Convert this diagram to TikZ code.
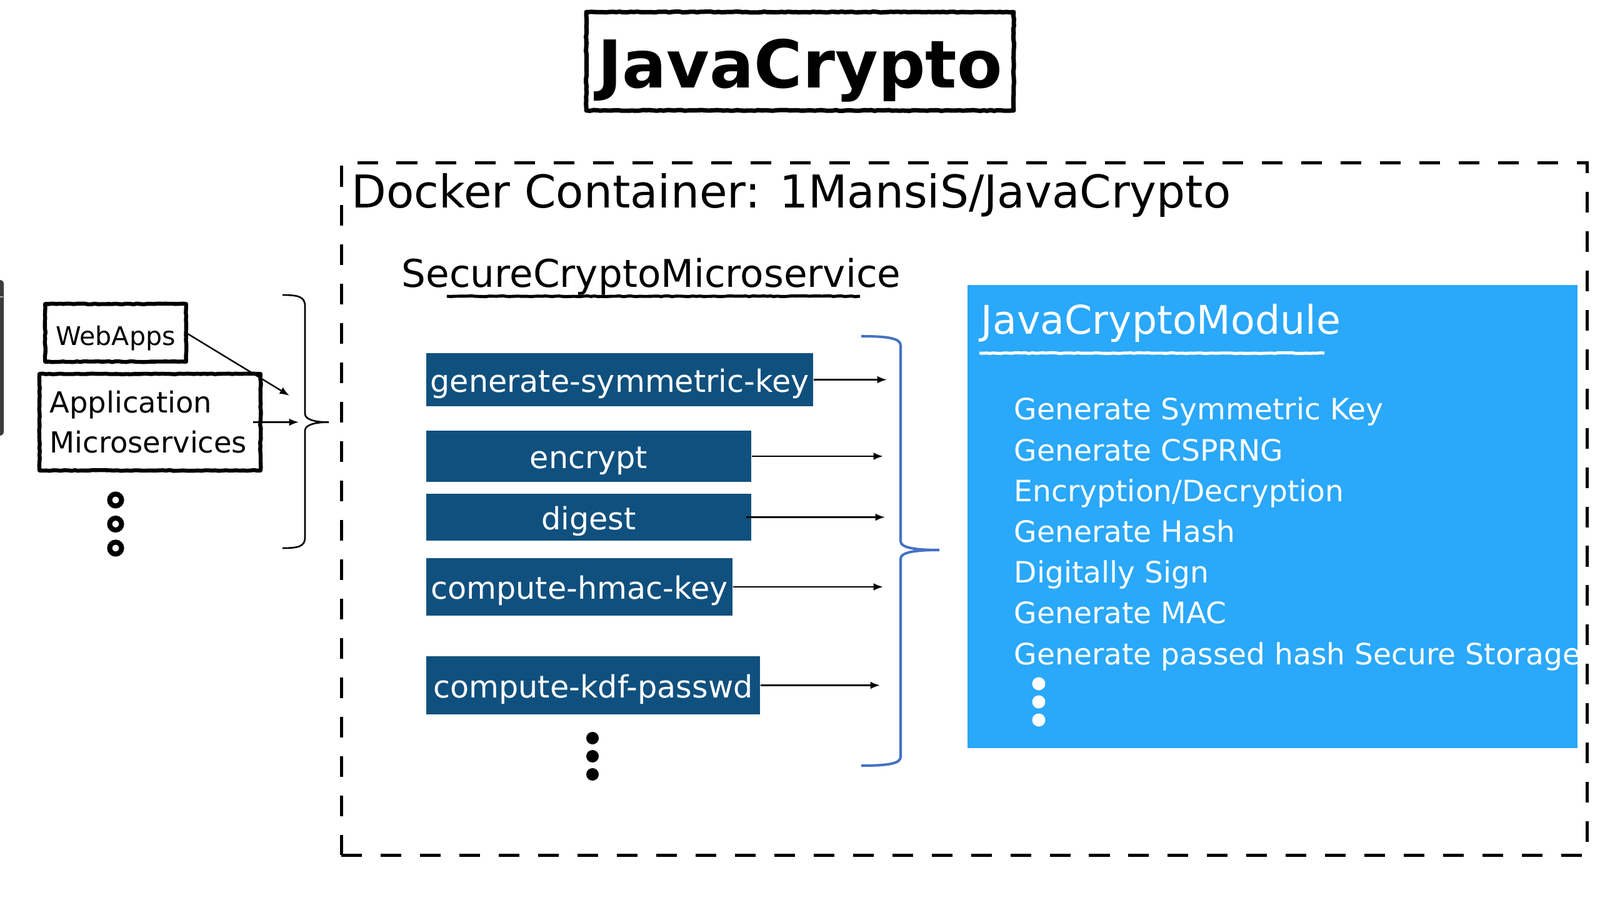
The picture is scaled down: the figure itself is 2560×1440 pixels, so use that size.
\documentclass[tikz,border=0pt]{standalone}
\usepackage{fontspec}
\setmainfont{DejaVu Sans}
\usetikzlibrary{arrows.meta,decorations.pathmorphing}
\definecolor{darkbox}{HTML}{10507E}
\definecolor{skyb}{HTML}{2AA8F9}
\definecolor{bracec}{HTML}{4472C4}
\definecolor{barg}{HTML}{3C3C3C}
\begin{document}
\begin{tikzpicture}[x=0.01cm,y=-0.01cm,
  rough/.style={decorate, decoration={random steps, segment length=1.6pt, amplitude=0.18pt}, line width=1.8pt, line join=round},
  dbox/.style={fill=darkbox, inner sep=0pt, text=white, font=\fontsize{14}{16}\selectfont, text height=12.8pt, text depth=1.6pt},
  arr/.style={-{Latex[length=4.4pt,width=3.4pt]}, line width=0.7pt},
  itemtext/.style={anchor=base west, text=white, inner sep=0pt, font=\fontsize{13.4}{16}\selectfont},
  wdot/.style={fill=white},
  bdot/.style={fill=black},
  ring/.style={draw=black, line width=2.3pt},
  brc/.style={line width=0.75pt},
]
\useasboundingbox (0,0) rectangle (2560,1440);
\fill[white] (0,0) rectangle (2560,1440);

% grey bar at left edge
\fill[barg, rounded corners=0.06cm] (-40,448) rectangle (6,697);
\draw[gray!60, line width=0.4pt] (0,475) -- (5,475);

% title
\node[inner sep=0pt, minimum width=6.82cm, minimum height=1.56cm, font=\fontsize{30}{34}\bfseries, text height=26pt, text depth=2.1pt] (title) at (1280,98) {JavaCrypto};
\draw[rough, line width=2pt] (title.north west) rectangle (title.south east);

% docker container
\node[draw=black, dash pattern=on 9.4pt off 8.5pt, line width=1.4pt, inner sep=0pt, minimum width=19.92cm, minimum height=11.07cm] (docker) at (1543,814.5) {};
\node[anchor=base west, inner sep=0pt, font=\fontsize{20.6}{24}\selectfont] (dlabel) at (562,333) {Docker Container: 1MansiS/JavaCrypto};

% SecureCryptoMicroservice
\node[anchor=base west, inner sep=0pt, font=\fontsize{17.4}{20}\selectfont] (scm) at (642,460) {SecureCryptoMicroservice};
\draw[rough, line width=1.4pt] (715,474) -- (1376,474);

% endpoint boxes
\node[dbox, minimum width=6.19cm, minimum height=0.85cm] (b1) at (991.5,607.5) {generate-symmetric-key};
\node[dbox, minimum width=5.20cm, minimum height=0.82cm] (b2) at (942,730) {encrypt};
\node[dbox, minimum width=5.20cm, minimum height=0.75cm] (b3) at (942,827.5) {digest};
\node[dbox, minimum width=4.90cm, minimum height=0.92cm] (b4) at (927,939) {compute-hmac-key};
\node[dbox, minimum width=5.34cm, minimum height=0.93cm] (b5) at (949,1096.5) {compute-kdf-passwd};

\coordinate (e1) at (1419,607.5);
\coordinate (e2) at (1413,730);
\coordinate (e3) at (1416,827.5);
\coordinate (e4) at (1413,939);
\coordinate (e5) at (1408,1096.5);
\draw[arr] (b1.east) -- (e1);
\draw[arr] (b2.east) -- (e2);
\draw[arr] ([xshift=-0.09cm]b3.east) -- (e3);
\draw[arr] (b4.east) -- (e4);
\draw[arr] (b5.east) -- (e5);

\fill[bdot] (948,1181) circle[radius=0.10cm];
\fill[bdot] (948,1210) circle[radius=0.10cm];
\fill[bdot] (948,1239) circle[radius=0.10cm];

% blue brace
\draw[bracec, line width=1.15pt] (1378,538) .. controls (1420,538) and (1441,541) .. (1441,553) -- (1441,866) .. controls (1441,876) and (1462,880) .. (1503,880) .. controls (1462,880) and (1441,884) .. (1441,894) -- (1441,1211) .. controls (1441,1222) and (1420,1225) .. (1378,1225);

% JavaCryptoModule box
\node[fill=skyb, inner sep=0pt, minimum width=9.76cm, minimum height=7.41cm] (jcm) at (2036,826.5) {};
\node[anchor=base west, inner sep=0pt, text=white, font=\fontsize{18}{21}\selectfont] (jcmt) at (1569,535) {JavaCryptoModule};
\draw[white, rough, line width=1.4pt] (1567,565) -- (2119,565);

\node[itemtext] (i1) at (1622,672) {Generate Symmetric Key};
\node[itemtext] (i2) at (1622,737.2) {Generate CSPRNG};
\node[itemtext] (i3) at (1622,802.4) {Encryption/Decryption};
\node[itemtext] (i4) at (1622,867.6) {Generate Hash};
\node[itemtext] (i5) at (1622,932.8) {Digitally Sign};
\node[itemtext] (i6) at (1622,998) {Generate MAC};
\node[itemtext] (i7) at (1622,1063.2) {Generate passed hash Secure Storage};
\fill[wdot] (1662,1094) circle[radius=0.105cm];
\fill[wdot] (1662,1123) circle[radius=0.105cm];
\fill[wdot] (1662,1152) circle[radius=0.105cm];

% left clients
\node[inner sep=0pt, minimum width=2.24cm, minimum height=0.91cm, font=\fontsize{11.7}{14}\selectfont, text height=12.5pt, text depth=0.84pt] (web) at (185,532.5) {WebApps};
\draw[rough] (web.north west) rectangle (web.south east);
\node[inner sep=0pt, minimum width=3.52cm, minimum height=1.53cm] (app) at (240,675.5) {};
\draw[rough] (app.north west) rectangle (app.south east);
\node[anchor=base west, inner sep=0pt, font=\fontsize{13.2}{16}\selectfont] (appt1) at (79,661) {Application};
\node[anchor=base west, inner sep=0pt, font=\fontsize{13.2}{16}\selectfont] (appt2) at (79,725) {Microservices};

\draw[ring] (185,800) circle[radius=0.095cm];
\draw[ring] (185,838.5) circle[radius=0.095cm];
\draw[ring] (185,877) circle[radius=0.095cm];

\coordinate (wa) at (463,633);
\coordinate (aa) at (478,675.5);
\draw[arr] (web.east) -- (wa);
\draw[arr] ([xshift=-0.12cm]app.east) -- (aa);

% black brace
\draw[brc] (452,472) .. controls (478,472) and (488,475) .. (488,490) -- (488,662) .. controls (488,671) and (503,675.5) .. (526,675.5) .. controls (503,675.5) and (488,680) .. (488,689) -- (488,860) .. controls (488,874) and (478,877) .. (452,877);
\end{tikzpicture}
\end{document}
